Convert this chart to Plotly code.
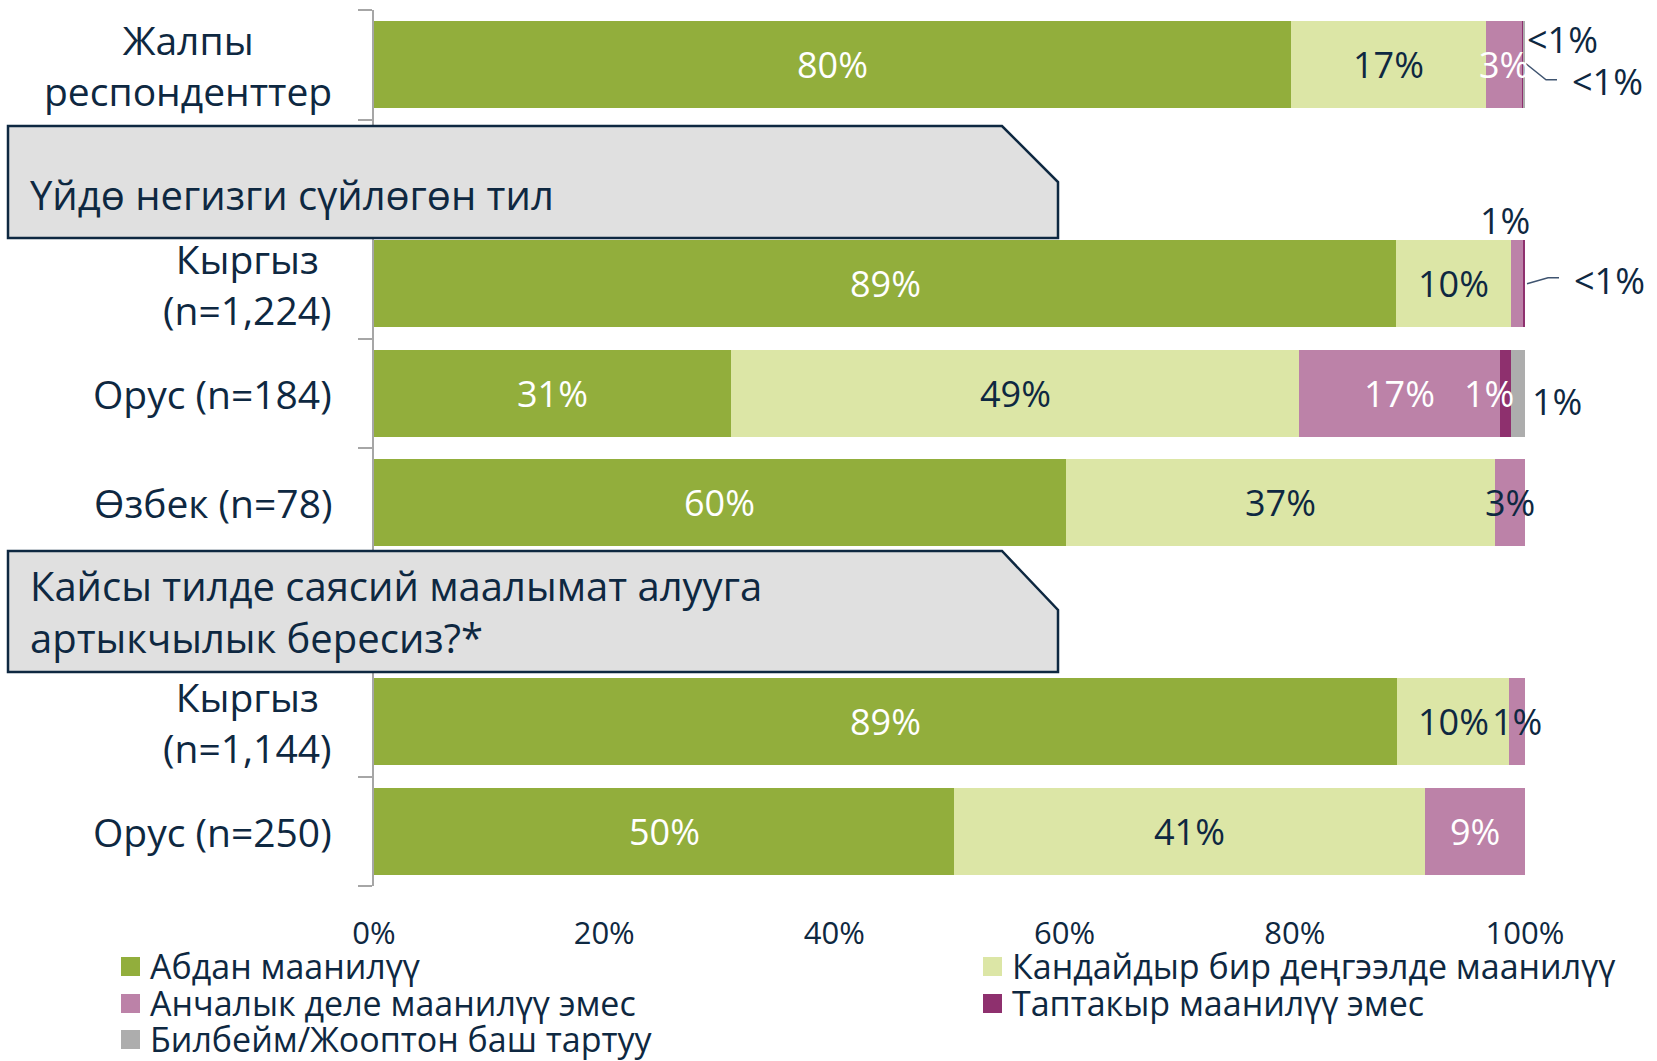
import plotly.graph_objects as go

# ---- data -------------------------------------------------------------
categories = [
    "Жалпы<br>респонденттер",
    "Үйдө негизги сүйлөгөн тил",
    "Кыргыз<br>(n=1,224)",
    "Орус (n=184)",
    "Өзбек (n=78)",
    "Кайсы тилде саясий маалымат алууга<br>артыкчылык бересиз?*",
    "Кыргыз<br>(n=1,144)",
    "Орус (n=250)",
]
header_rows = [1, 5]  # rows that hold a section heading instead of a bar

series_names = [
    "Абдан маанилүү",
    "Кандайдыр бир деңгээлде маанилүү",
    "Анчалык деле маанилүү эмес",
    "Таптакыр маанилүү эмес",
    "Билбейм/Жооптон баш тартуу",
]
very_important = [79.7, None, 88.8, 31.0, 60.1, None, 88.9, 50.4]
somewhat_important = [16.9, None, 10.0, 49.4, 37.3, None, 9.7, 40.9]
not_very_important = [3.1, None, 1.0, 17.4, 2.6, None, 1.4, 8.7]
not_at_all_important = [0.2, None, 0.2, 1.0, 0.0, None, 0.0, 0.0]
dont_know = [0.1, None, 0.0, 1.2, 0.0, None, 0.0, 0.0]

x_ticks = [0, 20, 40, 60, 80, 100]
x_tick_labels = [f"{v}%" for v in x_ticks]

# ---- style ------------------------------------------------------------
FONT = "Open Sans"
NAVY = "#0E2841"
colors = ["#92AE3C", "#DCE6A6", "#BC82A8", "#8E306E", "#ADADAD"]
label_colors = ["white", NAVY, "white", "white", NAVY]

W, H = 1657, 1061
L, R, T, B = 374, 132, 10, 175
PW, PH = W - L - R, H - T - B
ROW_H = PH / len(categories)


def px_x(p):
    return (p - L) / PW


def px_y(p):
    return (T + PH - p) / PH


series = [very_important, somewhat_important, not_very_important,
          not_at_all_important, dont_know]
rows = list(range(len(categories)))

fig = go.Figure()
for name, vals, col in zip(series_names, series, colors):
    fig.add_trace(go.Bar(
        name=name, x=vals, y=rows, orientation="h",
        marker=dict(color=col, line=dict(width=0)),
        hoverinfo="x+name", showlegend=False,
    ))

# ---- value labels -----------------------------------------------------
# per-label placement tweaks: (row, series) -> options
tweaks = {
    (0, 3): dict(at_end=True, xshift=0, yshift=25, color=NAVY),
    (0, 4): dict(at_end=True, xshift=45, yshift=-17, color=NAVY),
    (2, 2): dict(xshift=-12, yshift=63, color=NAVY),
    (2, 3): dict(at_end=True, xshift=47, yshift=3, color=NAVY),
    (3, 3): dict(xshift=-16),
    (3, 4): dict(at_end=True, xshift=5, yshift=-8, color=NAVY),
    (4, 2): dict(color=NAVY),
    (6, 2): dict(color=NAVY),
}

annotations = []
row_ends = {}
for r in rows:
    if r in header_rows:
        continue
    left = 0.0
    total = sum(s[r] for s in series)
    row_ends[r] = total
    for si, s in enumerate(series):
        v = s[r]
        if not v:
            continue
        text = "<1%" if v < 1 else f"{v:.0f}%"
        tw = tweaks.get((r, si), {})
        if tw.get("at_end"):
            xpos, anchor = total, "left"
        else:
            xpos, anchor = left + v / 2, "center"
        annotations.append(dict(
            x=xpos, y=r, xref="x", yref="y", text=text, showarrow=False,
            xanchor=anchor, yanchor="middle",
            xshift=tw.get("xshift", 0), yshift=tw.get("yshift", 0),
            font=dict(family=FONT, size=36, color=tw.get("color", label_colors[si])),
        ))
        left += v

# category labels on the left
for r, cat in enumerate(categories):
    if r in header_rows:
        continue
    annotations.append(dict(
        x=px_x(334), y=r, xref="paper", yref="y", text=cat, showarrow=False,
        xanchor="right", yanchor="middle", align="center",
        font=dict(family=FONT, size=39, color=NAVY),
    ))

# ---- section heading boxes -------------------------------------------
shapes = []
box_geo = [(126, 238, 182, 194), (551, 672, 610, 612)]
for r, (top, bot, corner_y, text_y) in zip(header_rows, box_geo):
    pts = [(8, top), (1002, top), (1058, corner_y), (1058, bot), (8, bot)]
    path = "M " + " L ".join(f"{px_x(a):.5f},{px_y(b):.5f}" for a, b in pts) + " Z"
    shapes.append(dict(type="path", path=path, xref="paper", yref="paper",
                       fillcolor="#E0E0E0", line=dict(color=NAVY, width=2.5),
                       layer="above"))
    annotations.append(dict(
        x=px_x(28), y=px_y(text_y), xref="paper", yref="paper",
        text=categories[r], showarrow=False, xanchor="left", yanchor="middle",
        align="left", font=dict(family=FONT, size=40, color=NAVY),
    ))

# leader lines from the tiny segments to their outside labels
# (offsets in pixels from the bar end: right, and up)
leaders = [(0, [(1, 1), (21, -15), (32, -15)]),
           (2, [(2, 0), (23, 6), (34, 6)])]
for r, offs in leaders:
    end_px = L + row_ends[r] / 100 * PW
    mid_px = T + (r + 0.5) * ROW_H
    path = "M " + " L ".join(
        f"{px_x(end_px + dx):.5f},{px_y(mid_px - dy):.5f}" for dx, dy in offs)
    shapes.append(dict(type="path", path=path, xref="paper", yref="paper",
                       line=dict(color="#3F5470", width=1.5)))

# ---- legend -----------------------------------------------------------
legend_pos = [(121, 966), (983, 966), (121, 1003), (983, 1003), (121, 1039)]
for name, col, (lx, ly) in zip(series_names, colors, legend_pos):
    shapes.append(dict(type="rect", xref="paper", yref="paper",
                       x0=px_x(lx), x1=px_x(lx + 19),
                       y0=px_y(ly + 10), y1=px_y(ly - 9),
                       fillcolor=col, line=dict(width=0)))
    annotations.append(dict(
        x=px_x(lx + 27), y=px_y(ly), xref="paper", yref="paper", text=name,
        showarrow=False, xanchor="left", yanchor="middle",
        font=dict(family=FONT, size=34, color=NAVY),
    ))

fig.update_layout(
    width=W, height=H,
    margin=dict(l=L, r=R, t=T, b=B, pad=0),
    barmode="stack", bargap=0.205,
    plot_bgcolor="white", paper_bgcolor="white",
    font=dict(family=FONT, color=NAVY),
    showlegend=False,
    annotations=annotations, shapes=shapes,
    xaxis=dict(range=[0, 100], tickvals=x_ticks, ticktext=x_tick_labels,
               showgrid=False, zeroline=False, showline=False, ticks="",
               ticklabelstandoff=26,
               tickfont=dict(family=FONT, size=31, color=NAVY)),
    yaxis=dict(range=[len(categories) - 0.5, -0.5],
               tickvals=[i - 0.5 for i in range(len(categories) + 1)],
               showticklabels=False, showgrid=False, zeroline=False,
               showline=True, linecolor="#A6A6A6", linewidth=2,
               ticks="outside", ticklen=14, tickcolor="#A6A6A6", tickwidth=2),
)

fig.write_html("out.html")
